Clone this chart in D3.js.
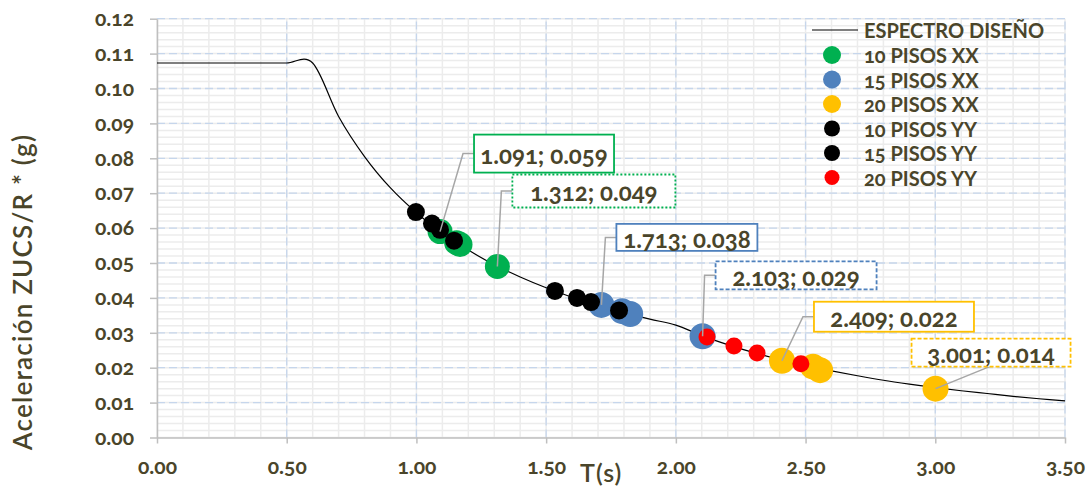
<!DOCTYPE html>
<html>
<head>
<meta charset="utf-8">
<script src="https://cdn.jsdelivr.net/npm/d3@7"></script>
<style>
  body { margin: 0; background: #fff; }
  text { font-family: Lato, "Open Sans", sans-serif; fill: #4a452a; font-variant-numeric: oldstyle-nums; }
</style>
</head>
<body>
<svg id="chart" width="1090" height="487"></svg>
<script>
// spectrum (T, Sa)
var specT  = [0, 0.1, 0.2, 0.3, 0.4, 0.5, 0.6, 0.7, 0.8, 0.9, 1.0, 1.1, 1.2, 1.3, 1.4, 1.5, 1.6, 1.7, 1.8,
              1.9, 2.0, 2.1, 2.2, 2.3, 2.4, 2.5, 2.6, 2.7, 2.8, 2.9, 3.0, 3.1, 3.2, 3.3, 3.4, 3.5];
var specSa = [0.1073, 0.1073, 0.1073, 0.1073, 0.1073, 0.1073, 0.1073, 0.0920, 0.0805, 0.0715, 0.0644,
              0.0585, 0.0537, 0.0495, 0.0460, 0.0429, 0.0402, 0.0379, 0.0358, 0.0339, 0.0322, 0.0292,
              0.0266, 0.0243, 0.0224, 0.0206, 0.0191, 0.0177, 0.0164, 0.0153, 0.0143, 0.0134, 0.0126,
              0.0118, 0.0111, 0.0105];

var p10xxT = [1.091, 1.155, 1.168, 1.312];
var p10xxSa = [0.059, 0.0558, 0.0553, 0.049];
var p15xxT = [1.713, 1.793, 1.824, 2.103];
var p15xxSa = [0.038, 0.0362, 0.0354, 0.029];
var p20xxT = [2.409, 2.529, 2.556, 3.001];
var p20xxSa = [0.022, 0.0203, 0.0193, 0.014];
var p10yyT = [0.998, 1.060, 1.091, 1.145];
var p10yySa = [0.0646, 0.0613, 0.0595, 0.0564];
var p15yyT = [1.534, 1.619, 1.673, 1.781];
var p15yySa = [0.0420, 0.0400, 0.0388, 0.0364];
var p20yyT = [2.120, 2.224, 2.313, 2.482];
var p20yySa = [0.0288, 0.0262, 0.0242, 0.0211];

var seriesNames = ["10 PISOS XX", "15 PISOS XX", "20 PISOS XX", "10 PISOS YY", "15 PISOS YY", "20 PISOS YY"];
var specName = "ESPECTRO DISEÑO";

var xTicks = [0, 0.5, 1.0, 1.5, 2.0, 2.5, 3.0, 3.5];
var yTicks = [0, 0.01, 0.02, 0.03, 0.04, 0.05, 0.06, 0.07, 0.08, 0.09, 0.10, 0.11, 0.12];

// labelled points
var labelT  = [1.091, 1.312, 1.713, 2.103, 2.409, 3.001];
var labelSa = [0.059, 0.049, 0.038, 0.029, 0.022, 0.014];

// ---- styles / layout ----
var colors = ["#00b050", "#4f81bd", "#ffc000", "#000000", "#000000", "#ff0000"];
var radii  = [12.5, 13, 13, 9, 9, 8.5];
var legR   = [9, 9, 9, 8, 8, 7.5];

// label box layout: box offset from point (px), size, border style, leader type
var labelLayout = [
  {dx: 34,  dy: -97, w: 140, h: 38, col: "#00b050", dash: null,  lead: "left"},
  {dx: 15,  dy: -92, w: 163, h: 33, col: "#00b050", dash: "2,2", lead: "left"},
  {dx: 15,  dy: -81, w: 141, h: 27, col: "#4f81bd", dash: null,  lead: "left"},
  {dx: 13,  dy: -75, w: 161, h: 28, col: "#4f81bd", dash: "4,2", lead: "left"},
  {dx: 32,  dy: -59, w: 160, h: 30, col: "#ffc000", dash: null,  lead: "left"},
  {dx: -24, dy: -50, w: 159, h: 28, col: "#ffc000", dash: "4,2", lead: "bottom"}
];

var svg = d3.select("#chart");
var x = d3.scaleLinear().domain([0, 3.5]).range([157, 1065]);
var y = d3.scaleLinear().domain([0, 0.12]).range([437.5, 18.7]);

// minor grid
var grid = svg.append("g");
grid.selectAll(".hmin").data(d3.range(0, 61).map(function(i){ return i * 0.002; }))
  .enter().append("line")
  .attr("x1", x(0)).attr("x2", x(3.5))
  .attr("y1", function(d){ return y(d); }).attr("y2", function(d){ return y(d); })
  .attr("stroke", "#ececec").attr("stroke-width", 1.5);
grid.selectAll(".vmin").data(d3.range(0, 36).map(function(i){ return i * 0.1; }))
  .enter().append("line")
  .attr("y1", y(0)).attr("y2", y(0.12))
  .attr("x1", function(d){ return x(d); }).attr("x2", function(d){ return x(d); })
  .attr("stroke", "#ececec").attr("stroke-width", 1.5);

// major grid (dashed)
grid.selectAll(".hmaj").data(yTicks.slice(1))
  .enter().append("line")
  .attr("x1", x(0)).attr("x2", x(3.5))
  .attr("y1", function(d){ return y(d); }).attr("y2", function(d){ return y(d); })
  .attr("stroke", "#c6d6ec").attr("stroke-width", 1.3).attr("stroke-dasharray", "8,4");
grid.selectAll(".vmaj").data(xTicks.slice(1))
  .enter().append("line")
  .attr("y1", y(0)).attr("y2", y(0.12))
  .attr("x1", function(d){ return x(d); }).attr("x2", function(d){ return x(d); })
  .attr("stroke", "#c6d6ec").attr("stroke-width", 1.3).attr("stroke-dasharray", "8,4");

// axes
var yAxis = svg.append("g").attr("transform", "translate(" + x(0) + ",0)")
  .call(d3.axisLeft(y).tickValues(yTicks).tickFormat(d3.format(".2f")).tickSize(7).tickSizeOuter(0).tickPadding(16));
var xAxis = svg.append("g").attr("transform", "translate(0," + y(0) + ")")
  .call(d3.axisBottom(x).tickValues(xTicks).tickFormat(d3.format(".2f")).tickSize(6).tickSizeOuter(0).tickPadding(16));
[yAxis, xAxis].forEach(function(ax){
  ax.select(".domain").attr("stroke", "#bfbfbf").attr("stroke-width", 1.5);
  ax.selectAll(".tick line").attr("stroke", "#bfbfbf").attr("stroke-width", 1.5);
  ax.selectAll(".tick text").style("font-size", "21px").style("font-weight", "bold").attr("fill", "#4a452a");
});

// spectrum line
var specData = specT.map(function(t, i){ return [t, specSa[i]]; });
svg.append("path").datum(specData)
  .attr("d", d3.line().x(function(d){ return x(d[0]); }).y(function(d){ return y(d[1]); })
    .curve(d3.curveCardinal.tension(0)))
  .attr("fill", "none").attr("stroke", "#000").attr("stroke-width", 1.2);

// points
var allT = [p10xxT, p15xxT, p20xxT, p10yyT, p15yyT, p20yyT];
var allSa = [p10xxSa, p15xxSa, p20xxSa, p10yySa, p15yySa, p20yySa];
allT.forEach(function(ts, s){
  var pts = ts.map(function(t, i){ return {t: t, sa: allSa[s][i]}; });
  svg.append("g").selectAll("circle").data(pts).enter().append("circle")
    .attr("cx", function(d){ return x(d.t); })
    .attr("cy", function(d){ return y(d.sa); })
    .attr("r", radii[s])
    .attr("fill", colors[s]);
});

// data labels with leaders
var labels = svg.append("g");
labelT.forEach(function(t, i){
  var L = labelLayout[i];
  var px = x(t), py = y(labelSa[i]);
  var bx = px + L.dx, by = py + L.dy;
  var pts;
  if (L.lead === "left") {
    pts = [[bx, by + L.h / 2], [bx - 11, by + L.h / 2], [px, py]];
  } else {
    pts = [[bx + 78, by + L.h], [px, py]];
  }
  labels.append("path").attr("d", d3.line()(pts))
    .attr("fill", "none").attr("stroke", "#a6a6a6").attr("stroke-width", 1.5);
  labels.append("rect").attr("x", bx).attr("y", by).attr("width", L.w).attr("height", L.h)
    .attr("fill", "#fff").attr("stroke", L.col).attr("stroke-width", 1.8)
    .attr("stroke-dasharray", L.dash);
  labels.append("text").attr("x", bx + L.w / 2).attr("y", by + L.h / 2 + 1)
    .attr("text-anchor", "middle").attr("dominant-baseline", "central")
    .style("font-size", "24px").style("font-weight", "bold")
    .text(d3.format(".3f")(t) + "; " + d3.format(".3f")(labelSa[i]));
});

// legend
var leg = svg.append("g");
leg.append("line").attr("x1", 812).attr("x2", 858).attr("y1", 30).attr("y2", 30)
  .attr("stroke", "#000").attr("stroke-width", 1.2);
leg.append("text").attr("x", 864).attr("y", 30).attr("dominant-baseline", "central")
  .style("font-size", "20px").style("font-weight", "bold").text(specName);
seriesNames.forEach(function(n, i){
  var yy = 55 + i * 24.5;
  leg.append("circle").attr("cx", 832).attr("cy", yy).attr("r", legR[i]).attr("fill", colors[i]);
  leg.append("text").attr("x", 864).attr("y", yy).attr("dominant-baseline", "central")
    .style("font-size", "20px").style("font-weight", "bold").text(n);
});

// axis titles
svg.append("text").attr("transform", "translate(22,292) rotate(-90)")
  .attr("text-anchor", "middle").attr("dominant-baseline", "central")
  .style("font-size", "26px").style("font-weight", "600").style("letter-spacing", "1.2px")
  .text("Aceleración ZUCS/R * (g)");
svg.append("text").attr("x", 580).attr("y", 472).attr("dominant-baseline", "central")
  .style("font-size", "25px").style("font-weight", "600").style("letter-spacing", "1px").text("T(s)");
</script>
</body>
</html>
